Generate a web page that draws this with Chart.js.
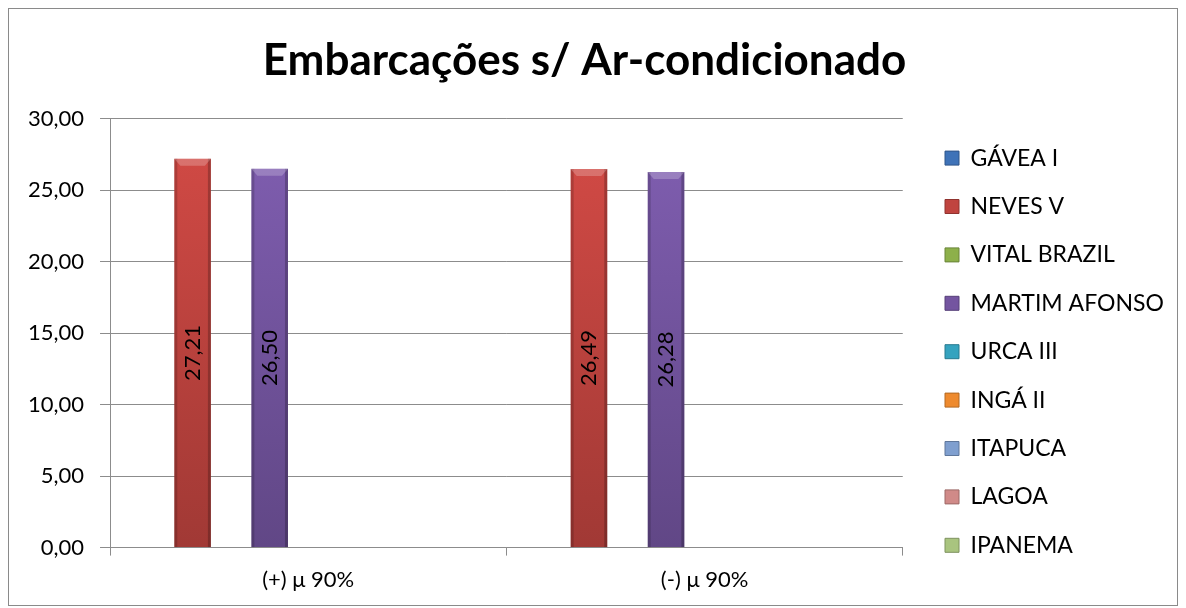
<!DOCTYPE html>
<html>
<head>
<meta charset="utf-8">
<script src="https://cdn.jsdelivr.net/npm/chart.js@4/dist/chart.umd.min.js"></script>
<style>
  html, body { margin: 0; background: #fff; }
  #wrap { width: 1186px; height: 608px; }
</style>
</head>
<body>
<div id="wrap"><canvas id="chart" width="1186" height="608"></canvas></div>
<script>
const categories = ['(+) μ 90%', '(-) μ 90%'];
const seriesNames = ['GÁVEA I', 'NEVES V', 'VITAL BRAZIL', 'MARTIM AFONSO', 'URCA III', 'INGÁ II', 'ITAPUCA', 'LAGOA', 'IPANEMA'];
const seriesColors = ['#3F73B8', '#C0443F', '#8DB04A', '#7455A0', '#35A3BF', '#EE8A2E', '#7F9FCF', '#D08A88', '#A9C47F'];

// only two boats have values in this chart
const gaveaI = [null, null];
const nevesV = [27.21, 26.49];
const vitalBrazil = [null, null];
const martimAfonso = [26.50, 26.28];
const urcaIII = [null, null];
const ingaII = [null, null];
const itapuca = [null, null];
const lagoa = [null, null];
const ipanema = [null, null];
const seriesValues = [gaveaI, nevesV, vitalBrazil, martimAfonso, urcaIII, ingaII, itapuca, lagoa, ipanema];

const yTicks = [0, 5, 10, 15, 20, 25, 30];

function fmt(v) {
  return v.toFixed(2).replace('.', ',');
}

function shade(hex, f) {
  const n = parseInt(hex.slice(1), 16);
  const r = Math.min(255, Math.round(((n >> 16) & 255) * f));
  const g = Math.min(255, Math.round(((n >> 8) & 255) * f));
  const b = Math.min(255, Math.round((n & 255) * f));
  return `rgb(${r},${g},${b})`;
}

const font = "Lato, 'Open Sans', sans-serif";
const legendPad = 25.4;

// outer frame
const framePlugin = {
  id: 'frame',
  beforeDraw(chart) {
    const c = chart.ctx;
    c.save();
    c.strokeStyle = '#8a8a8a';
    c.lineWidth = 1;
    c.strokeRect(8.5, 8.5, 1169, 597);
    c.restore();
  }
};

// put the legend where the original has it
const legendShift = {
  id: 'legendShift',
  afterLayout(chart) {
    const lg = chart.legend;
    const dx = 945 - legendPad - lg.left;
    lg.left += dx;
    lg.right += dx;
    lg.top = chart.chartArea.top;
    lg.bottom = chart.chartArea.bottom + 37;
  }
};

// vertical shading on each bar
const barShade = {
  id: 'barShade',
  beforeDatasetDraw(chart, args) {
    const base = seriesColors[args.index];
    args.meta.data.forEach(el => {
      if (!isFinite(el.y) || !isFinite(el.base)) return;
      const g = chart.ctx.createLinearGradient(0, el.y, 0, el.base);
      g.addColorStop(0, shade(base, 1.08));
      g.addColorStop(1, shade(base, 0.84));
      el.options.backgroundColor = g;
    });
  },
  afterDatasetDraw(chart, args) {
    const c = chart.ctx;
    args.meta.data.forEach(el => {
      if (!isFinite(el.y) || !isFinite(el.base) || el.base - el.y < 2) return;
      const x0 = el.x - el.width / 2, x1 = el.x + el.width / 2;
      const y0 = el.y, y1 = el.base;
      c.save();
      // side edges
      c.fillStyle = 'rgba(0,0,0,0.16)';
      c.fillRect(x0, y0, 3, y1 - y0);
      c.fillStyle = 'rgba(0,0,0,0.22)';
      c.fillRect(x1 - 3, y0, 3, y1 - y0);
      // top bevel
      c.beginPath();
      c.moveTo(x0, y0);
      c.lineTo(x1, y0);
      c.lineTo(x1 - 6, y0 + 7);
      c.lineTo(x0 + 6, y0 + 7);
      c.closePath();
      c.fillStyle = 'rgba(255,255,255,0.22)';
      c.fill();
      c.restore();
    });
  }
};

// vertical value labels in the middle of each bar
const barLabels = {
  id: 'barLabels',
  afterDatasetsDraw(chart) {
    const c = chart.ctx;
    chart.data.datasets.forEach((ds, i) => {
      const meta = chart.getDatasetMeta(i);
      meta.data.forEach((el, j) => {
        const v = ds.data[j];
        if (v === null || v === undefined) return;
        c.save();
        c.translate(el.x, (el.y + el.base) / 2);
        c.rotate(-Math.PI / 2);
        c.font = `22px ${font}`;
        c.fillStyle = '#000';
        c.textAlign = 'center';
        c.textBaseline = 'middle';
        c.fillText(fmt(v), 0, 0);
        c.restore();
      });
    });
  }
};

const datasets = seriesNames.map((name, i) => ({
  label: name,
  data: seriesValues[i],
  backgroundColor: () => seriesColors[i],
  borderWidth: 0,
  categoryPercentage: 0.875,
  barPercentage: 0.95
}));

new Chart(document.getElementById('chart'), {
  type: 'bar',
  data: { labels: categories, datasets },
  plugins: [framePlugin, legendShift, barShade, barLabels],
  options: {
    responsive: false,
    animation: false,
    devicePixelRatio: 1,
    layout: { padding: { left: 12, right: 29, bottom: 4, top: 0 } },
    plugins: {
      tooltip: { enabled: false },
      title: {
        display: true,
        text: 'Embarcações s/ Ar-condicionado',
        color: '#000',
        font: { family: font, size: 44, weight: 'bold' },
        padding: { top: 34, bottom: 32 }
      },
      legend: {
        position: 'right',
        labels: {
          color: '#000',
          font: { family: font, size: 23 },
          boxWidth: 14,
          boxHeight: 14,
          padding: legendPad,
          generateLabels() {
            return seriesNames.map((n, i) => ({
              text: n,
              fillStyle: seriesColors[i],
              strokeStyle: shade(seriesColors[i], 0.75),
              lineWidth: 1,
              datasetIndex: i
            }));
          }
        }
      }
    },
    scales: {
      x: {
        grid: {
          display: true,
          drawOnChartArea: false,
          offset: true,
          color: '#8c8c8c',
          tickLength: 8
        },
        border: { color: '#8c8c8c' },
        ticks: { color: '#000', font: { family: font, size: 22 }, padding: 11 }
      },
      y: {
        min: 0,
        max: 30,
        afterBuildTicks(scale) {
          scale.ticks = yTicks.map(v => ({ value: v }));
        },
        grid: { color: '#8c8c8c', tickLength: 10 },
        border: { color: '#8c8c8c' },
        ticks: {
          color: '#000',
          font: { family: font, size: 22 },
          padding: 16,
          callback: v => fmt(v)
        }
      }
    }
  }
});
</script>
</body>
</html>
